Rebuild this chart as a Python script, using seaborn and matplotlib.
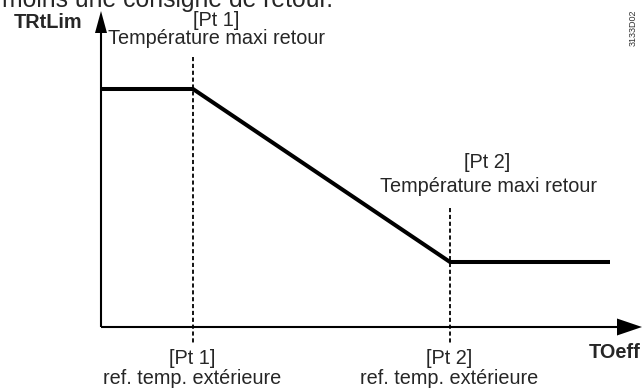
import matplotlib
matplotlib.use("Agg")
import matplotlib.pyplot as plt
from matplotlib.patches import Polygon
import seaborn as sns

# Return-temperature limit curve (schematic): x = TOeff, y = TRtLim
toeff = [0, 92, 349, 509]          # start, [Pt 1], [Pt 2], end
trtlim = [238, 238, 65, 65]        # plateau high, high, plateau low, low
pt_x = [92, 349]                   # reference outside temperatures
pt_top = [270, 119]                # where the dashed markers start
pt_names = ["[Pt 1]", "[Pt 2]"]
x_label = "ref. temp. extérieure"
y_label = "Température maxi retour"

W, H = 643, 392
sns.set_theme(style="white")
plt.rcParams["font.family"] = ["Liberation Sans", "DejaVu Sans"]

fig = plt.figure(figsize=(W / 100, H / 100), dpi=100)
ax = fig.add_axes([0, 0, 1, 1])
ax.set_xlim(-101, W - 101)
ax.set_ylim(-(H - 327), 327)
ax.axis("off")

# axes with arrow heads
ax.plot([0, 520], [0, 0], color="black", lw=1.5, solid_capstyle="butt")
ax.plot([0, 0], [0, 298], color="black", lw=1.5, solid_capstyle="butt")
ax.add_patch(Polygon([[541, 0], [516, 8.5], [516, -8.5]], closed=True,
                     color="black", lw=0))
ax.add_patch(Polygon([[0, 316], [-6, 294], [6, 294]], closed=True,
                     color="black", lw=0))

# dashed markers at Pt 1 and Pt 2
for x, top in zip(pt_x, pt_top):
    ax.plot([x, x], [top, -16], color="black", lw=1.3,
            linestyle=(0, (2.3, 1.5)))

# limit curve
sns.lineplot(x=toeff, y=trtlim, ax=ax, sort=False, estimator=None,
             color="black", lw=2.9, solid_capstyle="butt",
             solid_joinstyle="miter")


def label(px, py, s, **kw):
    fig.text(px / W, 1 - py / H, s, va="baseline", **kw)


fs = 14.3
label(2, 6.5, "moins une consigne de retour.", fontsize=17.8, ha="left")
label(14, 28, "TRtLim", fontsize=fs, fontweight="bold", ha="left")
label(641, 358, "TOeff", fontsize=fs, fontweight="bold", ha="right")

# labels above the curve
label(216, 25.5, pt_names[0], fontsize=fs, ha="center")
label(216.5, 44, y_label, fontsize=fs, ha="center")
label(487, 168.5, pt_names[1], fontsize=fs, ha="center")
label(489, 192, y_label, fontsize=fs, ha="center")

# labels below the x axis
for x, name in zip(pt_x, pt_names):
    label(x + 100, 363.5, name, fontsize=fs, ha="center")
    label(x + 100, 384, x_label, fontsize=fs, ha="center")

fig.text(633 / W, 1 - 28 / H, "3133D02", rotation=90, fontsize=6.5,
         color="#333333", ha="center", va="center")

fig.savefig("out.png", dpi=100)
